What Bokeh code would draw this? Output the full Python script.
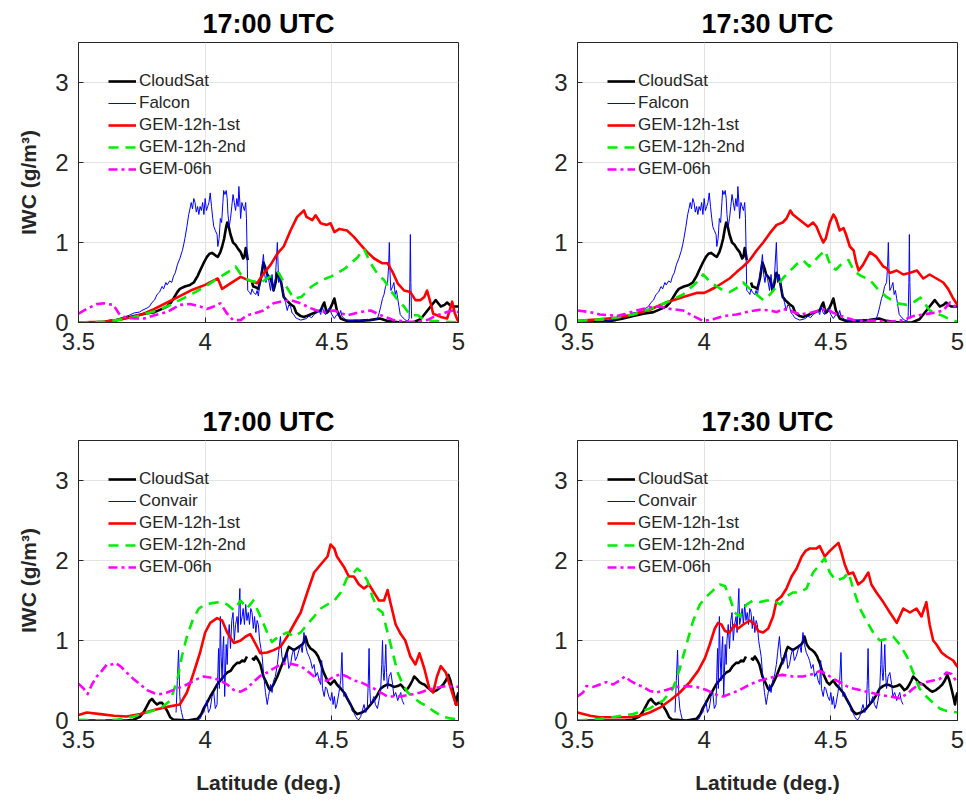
from bokeh.plotting import figure
from bokeh.layouts import column, row
from bokeh.models import Legend, LegendItem, Range1d, FixedTicker
from bokeh.embed import file_html
from bokeh.resources import INLINE

NAN = float("nan")

TITLES = ["17:00 UTC", "17:30 UTC", "17:00 UTC", "17:30 UTC"]
SERIES_TOP = ["CloudSat", "Falcon", "GEM-12h-1st", "GEM-12h-2nd", "GEM-06h"]
SERIES_BOT = ["CloudSat", "Convair", "GEM-12h-1st", "GEM-12h-2nd", "GEM-06h"]
X_TICKS = [3.5, 4, 4.5, 5]
X_TICK_LABELS = ["3.5", "4", "4.5", "5"]
Y_TICKS = [0, 1, 2, 3]
Y_TICK_LABELS = ["0", "1", "2", "3"]

# ---- observations, upper row (latitude, IWC g/m3) ----
cloudsat_top = [(3.5,0.0),(3.55,0.0),(3.6,0.01),(3.625,0.02),(3.65,0.03),(3.68,0.05),(3.72,0.08),(3.76,0.11),(3.8,0.13),(3.83,0.17),(3.85,0.2),(3.865,0.25),(3.875,0.3),(3.89,0.38),(3.9,0.42),(3.92,0.45),(3.94,0.47),(3.955,0.5),(3.97,0.58),(3.98,0.65),(3.995,0.75),(4.007,0.82),(4.017,0.86),(4.027,0.87),(4.04,0.84),(4.05,0.82),(4.06,0.88),(4.067,0.95),(4.075,1.05),(4.082,1.18),(4.087,1.25),(4.093,1.2),(4.1,1.1),(4.11,1.0),(4.12,0.97),(4.13,0.92),(4.14,0.88),(4.15,0.8),(4.155,0.82),(4.16,0.93),(4.165,0.85),(4.168,0.78),(4.176,NAN),(4.185,0.5),(4.19,0.45),(4.2,0.44),(4.21,0.42),(4.22,0.55),(4.23,0.75),(4.238,0.68),(4.245,0.6),(4.258,0.55),(4.265,0.48),(4.27,0.4),(4.278,0.5),(4.285,0.62),(4.292,0.58),(4.3,0.5),(4.31,0.32),(4.32,0.28),(4.33,0.25),(4.34,0.22),(4.35,0.2),(4.36,0.12),(4.377,0.08),(4.39,0.07),(4.4,0.08),(4.415,0.1),(4.43,0.12),(4.445,0.14),(4.456,0.15),(4.465,0.22),(4.47,0.25),(4.48,0.12),(4.49,0.15),(4.5,0.22),(4.51,0.3),(4.52,0.15),(4.535,0.05),(4.55,0.03),(4.56,0.02),(4.6,0.02),(4.65,0.03),(4.69,0.05),(4.72,0.02),(4.77,0.0),(4.82,0.0),(4.85,0.04),(4.865,0.1),(4.88,0.16),(4.89,0.2),(4.91,0.28),(4.92,0.24),(4.93,0.2),(4.945,0.22),(4.955,0.25),(4.965,0.22),(4.975,0.2),(5.0,0.2)]

falcon = [(3.5,0.0),(3.55,0.0),(3.6,0.01),(3.625,0.02),(3.65,0.04),(3.68,0.07),(3.7,0.09),(3.72,0.12),(3.74,0.13),(3.75,0.15),(3.77,0.18),(3.78,0.2),(3.79,0.25),(3.8,0.28),(3.81,0.35),(3.82,0.38),(3.83,0.45),(3.836,0.42),(3.845,0.5),(3.85,0.47),(3.86,0.52),(3.868,0.5),(3.875,0.58),(3.882,0.62),(3.89,0.72),(3.9,0.8),(3.91,0.9),(3.915,0.97),(3.92,1.05),(3.928,1.2),(3.935,1.35),(3.94,1.42),(3.945,1.5),(3.95,1.42),(3.955,1.55),(3.96,1.5),(3.965,1.38),(3.97,1.45),(3.975,1.35),(3.98,1.45),(3.985,1.4),(3.99,1.5),(3.995,1.35),(4.0,1.55),(4.005,1.4),(4.01,1.45),(4.015,1.5),(4.02,1.62),(4.025,1.45),(4.03,1.3),(4.034,1.2),(4.04,1.15),(4.047,1.1),(4.05,0.95),(4.055,1.05),(4.06,1.3),(4.065,1.25),(4.07,1.5),(4.073,1.65),(4.078,1.6),(4.083,1.65),(4.087,1.55),(4.09,1.35),(4.095,1.2),(4.1,1.3),(4.105,1.45),(4.11,1.6),(4.115,1.5),(4.12,1.4),(4.125,1.55),(4.13,1.45),(4.133,1.7),(4.137,1.5),(4.14,1.3),(4.145,1.5),(4.15,1.45),(4.155,1.4),(4.16,1.5),(4.163,1.3),(4.166,0.8),(4.168,0.4),(4.175,0.38),(4.18,0.35),(4.185,0.42),(4.19,0.38),(4.2,0.35),(4.205,0.4),(4.21,0.33),(4.218,0.55),(4.225,0.7),(4.23,0.85),(4.235,0.6),(4.24,0.5),(4.245,0.62),(4.25,0.55),(4.258,0.4),(4.264,0.6),(4.27,0.4),(4.277,0.55),(4.285,1.0),(4.29,0.5),(4.297,0.6),(4.303,0.45),(4.31,0.35),(4.317,0.25),(4.324,0.15),(4.33,0.22),(4.337,0.2),(4.343,0.12),(4.35,0.1),(4.357,0.06),(4.363,0.05),(4.37,0.04),(4.377,0.03),(4.39,0.04),(4.4,0.05),(4.41,0.08),(4.42,0.06),(4.43,0.1),(4.44,0.12),(4.45,0.15),(4.456,0.1),(4.462,0.2),(4.47,0.12),(4.475,0.1),(4.483,0.16),(4.49,0.18),(4.5,0.1),(4.51,0.05),(4.52,0.1),(4.528,0.08),(4.535,0.15),(4.54,0.08),(4.548,0.05),(4.56,0.03),(4.575,0.02),(4.59,0.03),(4.6,0.03),(4.615,0.02),(4.627,0.02),(4.64,0.04),(4.653,0.03),(4.665,0.03),(4.68,0.05),(4.687,0.12),(4.693,0.2),(4.7,0.3),(4.706,0.35),(4.712,0.45),(4.72,0.5),(4.724,0.7),(4.727,1.0),(4.73,0.6),(4.733,0.4),(4.74,0.45),(4.745,0.5),(4.75,0.35),(4.755,0.4),(4.76,0.3),(4.765,0.2),(4.77,0.1),(4.78,0.06),(4.785,0.05),(4.79,0.03),(4.8,0.02),(4.805,0.05),(4.808,0.5),(4.81,1.1),(4.812,0.5),(4.815,0.05)]

# ---- observations, lower row ----
cloudsat_bot = [(3.5,0.0),(3.6,0.0),(3.69,0.0),(3.717,0.01),(3.744,0.05),(3.76,0.12),(3.77,0.18),(3.78,0.24),(3.79,0.27),(3.8,0.23),(3.81,0.2),(3.82,0.22),(3.83,0.22),(3.84,0.17),(3.85,0.12),(3.862,0.04),(3.875,0.01),(3.89,0.01),(3.93,0.0),(3.97,0.02),(3.985,0.08),(3.994,0.15),(4.007,0.22),(4.02,0.3),(4.035,0.38),(4.047,0.45),(4.06,0.5),(4.073,0.55),(4.087,0.6),(4.1,0.62),(4.113,0.68),(4.126,0.72),(4.136,0.72),(4.146,0.75),(4.155,0.74),(4.165,0.8),(4.175,NAN),(4.185,0.78),(4.193,0.76),(4.2,0.8),(4.21,0.75),(4.218,0.7),(4.23,0.55),(4.238,0.5),(4.245,0.45),(4.252,0.4),(4.258,0.38),(4.264,0.42),(4.27,0.45),(4.285,0.55),(4.297,0.65),(4.31,0.75),(4.317,0.8),(4.325,0.88),(4.33,0.92),(4.34,0.9),(4.35,0.88),(4.36,0.9),(4.37,0.92),(4.383,0.95),(4.39,0.98),(4.396,1.05),(4.405,0.95),(4.416,0.9),(4.426,0.88),(4.436,0.85),(4.446,0.8),(4.456,0.72),(4.465,0.62),(4.475,0.55),(4.485,0.48),(4.495,0.45),(4.503,0.48),(4.51,0.5),(4.52,0.45),(4.535,0.4),(4.548,0.35),(4.56,0.28),(4.574,0.2),(4.587,0.12),(4.6,0.08),(4.61,0.09),(4.62,0.1),(4.63,0.12),(4.64,0.15),(4.653,0.2),(4.666,0.25),(4.68,0.32),(4.693,0.4),(4.706,0.43),(4.72,0.45),(4.733,0.44),(4.745,0.42),(4.76,0.43),(4.772,0.45),(4.78,0.42),(4.79,0.38),(4.8,0.4),(4.81,0.45),(4.818,0.5),(4.825,0.55),(4.835,0.52),(4.846,0.48),(4.856,0.46),(4.865,0.45),(4.875,0.42),(4.89,0.38),(4.9,0.36),(4.915,0.38),(4.93,0.42),(4.94,0.45),(4.95,0.5),(4.96,0.57),(4.968,0.5),(4.976,0.4),(4.985,0.28),(4.99,0.2),(4.995,0.3),(5.0,0.35)]

convair = [(3.885,0.1),(3.89,0.5),(3.895,0.88),(3.9,0.3),(3.904,0.15),(3.907,0.1),(3.913,0.02),(3.92,0.0),(3.94,0.0),(3.955,0.0),(3.97,0.01),(3.98,0.02),(3.988,0.08),(3.995,0.1),(4.0,0.18),(4.007,0.25),(4.013,0.1),(4.02,0.15),(4.027,0.3),(4.034,0.35),(4.04,0.15),(4.047,0.2),(4.05,0.6),(4.053,0.9),(4.056,0.4),(4.06,1.3),(4.063,0.8),(4.067,0.5),(4.07,0.9),(4.073,1.05),(4.077,0.3),(4.08,0.6),(4.083,0.95),(4.087,0.7),(4.09,1.0),(4.095,1.2),(4.1,0.9),(4.105,1.25),(4.11,1.35),(4.115,1.0),(4.12,1.2),(4.126,1.3),(4.13,1.1),(4.134,1.45),(4.137,1.65),(4.14,1.2),(4.146,1.3),(4.15,1.4),(4.155,1.2),(4.16,1.45),(4.165,1.25),(4.17,1.35),(4.175,1.2),(4.18,1.4),(4.185,1.35),(4.19,1.15),(4.195,1.3),(4.2,1.1),(4.205,1.25),(4.21,1.2),(4.215,1.0),(4.22,0.9),(4.225,0.8),(4.23,0.6),(4.238,0.35),(4.245,0.2),(4.25,0.3),(4.258,0.45),(4.264,0.35),(4.27,0.5),(4.277,0.55),(4.285,0.7),(4.29,0.85),(4.297,1.05),(4.303,0.8),(4.31,0.7),(4.317,0.75),(4.324,0.85),(4.33,0.65),(4.337,0.7),(4.343,0.82),(4.35,0.9),(4.356,0.75),(4.363,0.8),(4.37,0.88),(4.377,0.95),(4.383,0.85),(4.39,1.1),(4.396,0.95),(4.403,0.85),(4.41,0.8),(4.416,0.75),(4.423,0.65),(4.43,0.7),(4.436,0.55),(4.443,0.6),(4.45,0.5),(4.456,0.45),(4.46,0.75),(4.463,0.4),(4.47,0.3),(4.475,0.42),(4.48,0.4),(4.488,0.3),(4.495,0.25),(4.5,0.35),(4.505,0.2),(4.51,0.3),(4.515,0.15),(4.52,0.2),(4.528,0.35),(4.535,0.5),(4.54,0.85),(4.544,0.4),(4.548,0.3),(4.554,0.35),(4.56,0.3),(4.567,0.25),(4.574,0.2),(4.58,0.12),(4.587,0.1),(4.594,0.05),(4.6,0.02),(4.607,0.01),(4.614,0.05),(4.62,0.12),(4.627,0.2),(4.634,0.1),(4.64,0.15),(4.644,0.5),(4.647,0.9),(4.65,0.4),(4.653,0.2),(4.66,0.25),(4.666,0.3),(4.672,0.2),(4.68,0.15),(4.686,0.25),(4.693,0.4),(4.697,0.7),(4.7,1.0),(4.703,0.6),(4.706,0.5),(4.71,0.7),(4.713,0.95),(4.716,0.6),(4.72,0.4),(4.726,0.55),(4.733,0.6),(4.74,0.45),(4.745,0.3),(4.752,0.35),(4.76,0.25),(4.766,0.3),(4.772,0.35),(4.778,0.25),(4.785,0.2)]

# ---- GEM model, 17:00 UTC upper ----
gem1_a = [(3.5,0.0),(3.55,0.005),(3.6,0.01),(3.65,0.03),(3.7,0.06),(3.75,0.1),(3.8,0.17),(3.85,0.25),(3.9,0.33),(3.95,0.41),(4.0,0.47),(4.03,0.52),(4.05,0.55),(4.067,0.42),(4.1,0.49),(4.14,0.57),(4.17,0.53),(4.205,0.49),(4.23,0.61),(4.258,0.72),(4.285,0.86),(4.31,0.95),(4.337,1.15),(4.363,1.32),(4.39,1.4),(4.4,1.32),(4.423,1.28),(4.436,1.34),(4.456,1.24),(4.48,1.22),(4.495,1.24),(4.51,1.13),(4.53,1.17),(4.56,1.15),(4.587,1.07),(4.614,0.97),(4.64,0.88),(4.667,0.8),(4.7,0.74),(4.72,0.74),(4.74,0.63),(4.76,0.49),(4.785,0.4),(4.81,0.38),(4.83,0.28),(4.85,0.28),(4.865,0.32),(4.876,0.4),(4.89,0.24),(4.9,0.11),(4.93,0.07),(4.955,0.05),(4.965,0.15),(4.975,0.26),(4.985,0.12),(5.0,0.0)]
gem2_a = [(3.5,0.0),(3.6,0.01),(3.7,0.05),(3.8,0.14),(3.85,0.2),(3.9,0.28),(3.95,0.36),(4.0,0.45),(4.05,0.55),(4.1,0.65),(4.12,0.7),(4.15,0.56),(4.18,0.52),(4.22,0.5),(4.26,0.58),(4.29,0.62),(4.32,0.45),(4.35,0.3),(4.38,0.32),(4.42,0.45),(4.46,0.53),(4.5,0.58),(4.55,0.67),(4.6,0.81),(4.627,0.92),(4.653,0.74),(4.68,0.61),(4.706,0.53),(4.733,0.4),(4.76,0.28),(4.785,0.2),(4.81,0.09),(4.84,0.09),(4.865,0.03),(4.9,0.02),(5.0,0.0)]
gem6_a = [(3.5,0.11),(3.533,0.17),(3.572,0.23),(3.6,0.24),(3.638,0.22),(3.66,0.11),(3.678,0.07),(3.72,0.05),(3.76,0.05),(3.8,0.09),(3.85,0.13),(3.9,0.22),(3.94,0.23),(3.98,0.2),(4.007,0.17),(4.034,0.2),(4.06,0.24),(4.087,0.11),(4.11,0.03),(4.14,0.03),(4.165,0.09),(4.19,0.11),(4.23,0.15),(4.27,0.24),(4.297,0.26),(4.337,0.28),(4.377,0.24),(4.416,0.18),(4.456,0.13),(4.51,0.15),(4.56,0.09),(4.61,0.13),(4.653,0.15),(4.693,0.09),(4.745,0.03),(4.8,0.01),(4.84,0.01),(4.876,0.03),(4.915,0.09),(4.955,0.13),(4.98,0.15),(5.0,0.13)]

# ---- GEM model, 17:30 UTC upper ----
gem1_b = [(3.5,0.02),(3.588,0.04),(3.654,0.06),(3.72,0.1),(3.785,0.16),(3.85,0.25),(3.917,0.32),(3.97,0.37),(4.0,0.37),(4.02,0.4),(4.05,0.45),(4.075,0.5),(4.1,0.55),(4.128,0.63),(4.154,0.7),(4.18,0.78),(4.207,0.9),(4.233,1.0),(4.26,1.12),(4.286,1.22),(4.31,1.25),(4.325,1.3),(4.34,1.4),(4.35,1.35),(4.37,1.3),(4.39,1.25),(4.41,1.2),(4.43,1.25),(4.443,1.2),(4.456,1.1),(4.47,1.0),(4.48,1.05),(4.496,1.25),(4.51,1.35),(4.52,1.3),(4.535,1.15),(4.55,1.18),(4.56,1.1),(4.575,0.95),(4.59,0.9),(4.6,0.75),(4.61,0.65),(4.627,0.72),(4.654,0.88),(4.68,0.82),(4.707,0.7),(4.72,0.68),(4.733,0.62),(4.76,0.65),(4.786,0.6),(4.81,0.62),(4.84,0.65),(4.865,0.55),(4.89,0.6),(4.917,0.55),(4.944,0.5),(4.963,0.42),(4.983,0.3),(5.0,0.22)]
gem2_b = [(3.5,0.02),(3.588,0.04),(3.65,0.06),(3.72,0.1),(3.785,0.17),(3.85,0.25),(3.917,0.35),(3.97,0.5),(3.996,0.6),(4.02,0.52),(4.05,0.45),(4.075,0.4),(4.1,0.38),(4.128,0.43),(4.154,0.5),(4.18,0.42),(4.207,0.35),(4.233,0.28),(4.26,0.35),(4.286,0.45),(4.31,0.55),(4.34,0.65),(4.365,0.73),(4.39,0.78),(4.415,0.7),(4.45,0.82),(4.477,0.9),(4.5,0.7),(4.52,0.66),(4.545,0.74),(4.57,0.78),(4.59,0.65),(4.615,0.59),(4.655,0.53),(4.69,0.4),(4.72,0.32),(4.763,0.24),(4.8,0.22),(4.83,0.26),(4.854,0.31),(4.875,0.22),(4.89,0.15),(4.944,0.08),(4.97,0.04),(5.0,0.01)]
gem6_b = [(3.5,0.15),(3.55,0.13),(3.588,0.1),(3.63,0.09),(3.654,0.08),(3.69,0.11),(3.733,0.15),(3.785,0.19),(3.825,0.2),(3.865,0.17),(3.917,0.15),(3.957,0.08),(3.996,0.02),(4.035,0.04),(4.075,0.08),(4.128,0.1),(4.18,0.14),(4.22,0.16),(4.26,0.15),(4.286,0.13),(4.31,0.17),(4.338,0.15),(4.378,0.1),(4.417,0.12),(4.456,0.15),(4.483,0.17),(4.51,0.12),(4.55,0.07),(4.59,0.03),(4.628,0.02),(4.68,0.02),(4.733,0.01),(4.786,0.03),(4.825,0.08),(4.865,0.1),(4.904,0.12),(4.944,0.15),(4.97,0.25),(5.0,0.18)]

# ---- GEM model, 17:00 UTC lower ----
gem1_c = [(3.5,0.07),(3.533,0.1),(3.586,0.08),(3.64,0.06),(3.69,0.05),(3.744,0.08),(3.797,0.13),(3.85,0.17),(3.9,0.2),(3.928,0.35),(3.955,0.6),(3.98,0.85),(4.0,1.1),(4.02,1.22),(4.047,1.28),(4.067,1.25),(4.087,1.1),(4.113,0.97),(4.14,1.0),(4.16,1.05),(4.178,1.08),(4.2,0.95),(4.218,0.84),(4.245,0.85),(4.27,0.88),(4.297,0.92),(4.324,1.05),(4.35,1.2),(4.377,1.35),(4.403,1.6),(4.43,1.85),(4.456,1.95),(4.483,2.05),(4.495,2.2),(4.51,2.15),(4.52,2.05),(4.548,1.92),(4.567,1.8),(4.587,1.8),(4.607,1.7),(4.627,1.65),(4.647,1.7),(4.666,1.6),(4.686,1.5),(4.706,1.5),(4.72,1.63),(4.733,1.45),(4.752,1.2),(4.772,1.08),(4.79,1.0),(4.81,0.8),(4.83,0.7),(4.846,0.84),(4.865,0.65),(4.885,0.4),(4.9,0.35),(4.915,0.55),(4.93,0.68),(4.95,0.6),(4.97,0.4),(4.99,0.2),(5.0,0.2)]
gem2_c = [(3.5,0.01),(3.586,0.0),(3.65,0.01),(3.717,0.05),(3.77,0.1),(3.823,0.15),(3.862,0.25),(3.89,0.5),(3.908,0.8),(3.928,1.05),(3.95,1.25),(3.975,1.4),(4.0,1.45),(4.034,1.47),(4.06,1.48),(4.087,1.45),(4.113,1.38),(4.14,1.5),(4.165,1.4),(4.19,1.5),(4.218,1.3),(4.245,1.1),(4.264,0.98),(4.29,1.05),(4.324,1.1),(4.35,1.05),(4.377,1.1),(4.403,1.2),(4.43,1.3),(4.456,1.4),(4.483,1.45),(4.51,1.5),(4.535,1.6),(4.56,1.78),(4.587,1.85),(4.6,1.9),(4.62,1.85),(4.64,1.75),(4.66,1.55),(4.68,1.4),(4.7,1.35),(4.72,1.1),(4.74,0.85),(4.76,0.6),(4.78,0.45),(4.8,0.35),(4.825,0.28),(4.85,0.22),(4.876,0.18),(4.9,0.12),(4.93,0.06),(4.96,0.03),(5.0,0.01)]
gem6_c = [(3.5,0.46),(3.52,0.4),(3.536,0.33),(3.553,0.45),(3.572,0.55),(3.592,0.62),(3.612,0.7),(3.632,0.7),(3.645,0.72),(3.665,0.68),(3.69,0.6),(3.717,0.52),(3.744,0.45),(3.77,0.38),(3.8,0.34),(3.823,0.33),(3.85,0.35),(3.89,0.4),(3.928,0.45),(3.97,0.52),(3.994,0.55),(4.034,0.53),(4.06,0.5),(4.087,0.45),(4.113,0.38),(4.14,0.36),(4.165,0.4),(4.19,0.48),(4.218,0.56),(4.245,0.6),(4.27,0.65),(4.297,0.7),(4.324,0.72),(4.35,0.7),(4.377,0.68),(4.403,0.62),(4.43,0.55),(4.456,0.5),(4.483,0.5),(4.51,0.55),(4.535,0.58),(4.56,0.55),(4.587,0.5),(4.614,0.48),(4.64,0.44),(4.666,0.4),(4.693,0.35),(4.72,0.3),(4.745,0.3),(4.772,0.3),(4.8,0.32),(4.825,0.33),(4.85,0.35),(4.876,0.38),(4.9,0.4),(4.93,0.42),(4.955,0.43),(5.0,0.42)]

# ---- GEM model, 17:30 UTC lower ----
gem1_d = [(3.5,0.1),(3.55,0.06),(3.588,0.04),(3.654,0.04),(3.707,0.04),(3.746,0.06),(3.785,0.1),(3.825,0.16),(3.865,0.25),(3.904,0.35),(3.943,0.48),(3.976,0.62),(4.003,0.78),(4.022,0.95),(4.042,1.15),(4.055,1.22),(4.068,1.2),(4.082,1.12),(4.1,1.1),(4.12,1.2),(4.134,1.15),(4.154,1.2),(4.18,1.25),(4.2,1.2),(4.213,1.12),(4.233,1.1),(4.253,1.15),(4.272,1.3),(4.286,1.5),(4.305,1.55),(4.325,1.65),(4.345,1.8),(4.365,1.9),(4.385,2.05),(4.4,2.12),(4.417,2.15),(4.443,2.15),(4.456,2.18),(4.476,2.05),(4.496,2.12),(4.516,2.18),(4.53,2.22),(4.542,2.1),(4.555,1.95),(4.57,1.83),(4.588,1.85),(4.608,1.7),(4.628,1.75),(4.648,1.85),(4.66,1.7),(4.68,1.6),(4.707,1.48),(4.733,1.35),(4.76,1.22),(4.786,1.4),(4.812,1.35),(4.838,1.4),(4.858,1.3),(4.877,1.48),(4.89,1.2),(4.904,1.0),(4.917,0.95),(4.937,0.85),(4.957,0.8),(4.983,0.75),(5.0,0.67)]
gem2_d = [(3.5,0.0),(3.588,0.02),(3.654,0.05),(3.72,0.08),(3.785,0.15),(3.838,0.25),(3.877,0.4),(3.904,0.65),(3.93,0.95),(3.957,1.25),(3.983,1.45),(4.01,1.55),(4.036,1.63),(4.062,1.7),(4.082,1.68),(4.1,1.55),(4.12,1.35),(4.14,1.3),(4.167,1.45),(4.193,1.5),(4.22,1.48),(4.246,1.5),(4.272,1.5),(4.3,1.45),(4.325,1.55),(4.35,1.6),(4.378,1.6),(4.404,1.65),(4.43,1.85),(4.457,1.95),(4.476,2.03),(4.496,1.85),(4.52,1.75),(4.55,1.78),(4.57,1.85),(4.588,1.65),(4.615,1.4),(4.64,1.25),(4.667,1.1),(4.693,1.0),(4.72,1.02),(4.746,1.05),(4.772,0.95),(4.8,0.8),(4.825,0.6),(4.85,0.4),(4.877,0.3),(4.904,0.22),(4.93,0.15),(4.957,0.12),(5.0,0.1)]
gem6_d = [(3.5,0.3),(3.522,0.35),(3.535,0.43),(3.562,0.42),(3.588,0.45),(3.614,0.48),(3.64,0.45),(3.667,0.5),(3.687,0.55),(3.707,0.5),(3.733,0.45),(3.76,0.42),(3.785,0.37),(3.81,0.35),(3.85,0.38),(3.89,0.42),(3.93,0.43),(3.97,0.42),(4.01,0.38),(4.05,0.32),(4.075,0.3),(4.1,0.33),(4.14,0.38),(4.18,0.45),(4.22,0.5),(4.26,0.53),(4.286,0.56),(4.31,0.57),(4.35,0.55),(4.39,0.55),(4.43,0.58),(4.457,0.62),(4.483,0.58),(4.51,0.52),(4.535,0.48),(4.562,0.43),(4.588,0.4),(4.615,0.38),(4.654,0.35),(4.693,0.32),(4.733,0.3),(4.772,0.28),(4.8,0.33),(4.825,0.4),(4.85,0.45),(4.877,0.48),(4.904,0.5),(4.93,0.52),(4.957,0.6),(4.976,0.58),(5.0,0.47)]

STYLES = [
    dict(line_color="#000000", line_width=2.6, line_dash="solid"),
    dict(line_color="#0000ff", line_width=1.0, line_dash="solid"),
    dict(line_color="#ff0000", line_width=2.6, line_dash="solid"),
    dict(line_color="#00ee00", line_width=2.6, line_dash="10 7"),
    dict(line_color="#ff00ff", line_width=2.6, line_dash="9 4 3 4"),
]

FONT = "Liberation Sans"
TXT = "#262626"


def xy(pairs):
    return [a for a, _ in pairs], [b for _, b in pairs]


def panel(title, names, data, left, bottom, border_left, border_right, height, border_bottom):
    p = figure(width=border_left + 380 + border_right, height=height,
               x_range=Range1d(3.5, 5), y_range=Range1d(0, 3.5),
               output_backend="svg", toolbar_location=None,
               min_border_left=border_left, min_border_right=border_right,
               min_border_top=42, min_border_bottom=border_bottom)
    p.title.text = title
    p.title.align = "center"
    p.title.text_font = FONT
    p.title.text_font_size = "27px"
    p.title.text_font_style = "bold"
    p.title.text_color = "#000000"
    p.title.standoff = 8
    p.outline_line_color = "#262626"
    p.outline_line_width = 1
    p.background_fill_color = "white"
    p.border_fill_color = "white"

    for ax in (p.xaxis[0], p.yaxis[0]):
        ax.major_tick_in = 5
        ax.major_tick_out = 0
        ax.minor_tick_in = 0
        ax.minor_tick_out = 0
        ax.axis_line_color = "#262626"
        ax.major_tick_line_color = "#262626"
        ax.major_label_text_font = FONT
        ax.major_label_text_font_size = "24px"
        ax.major_label_text_color = TXT
        ax.axis_label_text_font = FONT
        ax.axis_label_text_font_size = "21px"
        ax.axis_label_text_font_style = "bold"
        ax.axis_label_text_color = TXT
    p.xaxis.ticker = FixedTicker(ticks=X_TICKS)
    p.xaxis.major_label_overrides = {t: s for t, s in zip(X_TICKS, X_TICK_LABELS)}
    p.yaxis.ticker = FixedTicker(ticks=Y_TICKS)
    p.yaxis.major_label_overrides = {t: s for t, s in zip(Y_TICKS, Y_TICK_LABELS)}
    p.xaxis.major_label_standoff = 10
    p.yaxis.major_label_standoff = 10
    if left:
        p.yaxis.axis_label = "IWC (g/m³)"
        p.yaxis.axis_label_standoff = 12
    if bottom:
        p.xaxis.axis_label = "Latitude (deg.)"
        p.xaxis.axis_label_standoff = 20

    p.xgrid.grid_line_color = "#e3e3e3"
    p.ygrid.grid_line_color = "#e3e3e3"
    p.xgrid.ticker = FixedTicker(ticks=X_TICKS)
    p.ygrid.ticker = FixedTicker(ticks=Y_TICKS)

    items = []
    for name, series, st in zip(names, data, STYLES):
        xs, ys = xy(series)
        r = p.line(xs, ys, line_join="round", **st)
        items.append(LegendItem(label=name, renderers=[r]))
    leg = Legend(items=items, location=(30, 143), border_line_color=None,
                 background_fill_alpha=0, label_text_font=FONT, label_text_font_size="17px",
                 label_text_color=TXT, glyph_width=28, glyph_height=20, label_height=20,
                 spacing=2, padding=0, margin=0, label_standoff=3)
    p.add_layout(leg)
    return p


tl = panel(TITLES[0], SERIES_TOP, [cloudsat_top, falcon, gem1_a, gem2_a, gem6_a], True, False, 78, 25, 398, 76)
tr = panel(TITLES[1], SERIES_TOP, [cloudsat_top, falcon, gem1_b, gem2_b, gem6_b], False, False, 94, 9, 398, 76)
bl = panel(TITLES[2], SERIES_BOT, [cloudsat_bot, convair, gem1_c, gem2_c, gem6_c], True, True, 78, 25, 404, 82)
br = panel(TITLES[3], SERIES_BOT, [cloudsat_bot, convair, gem1_d, gem2_d, gem6_d], False, True, 94, 9, 404, 82)

layout = column(row(tl, tr), row(bl, br))
open("out.html", "w").write(file_html(layout, INLINE))
